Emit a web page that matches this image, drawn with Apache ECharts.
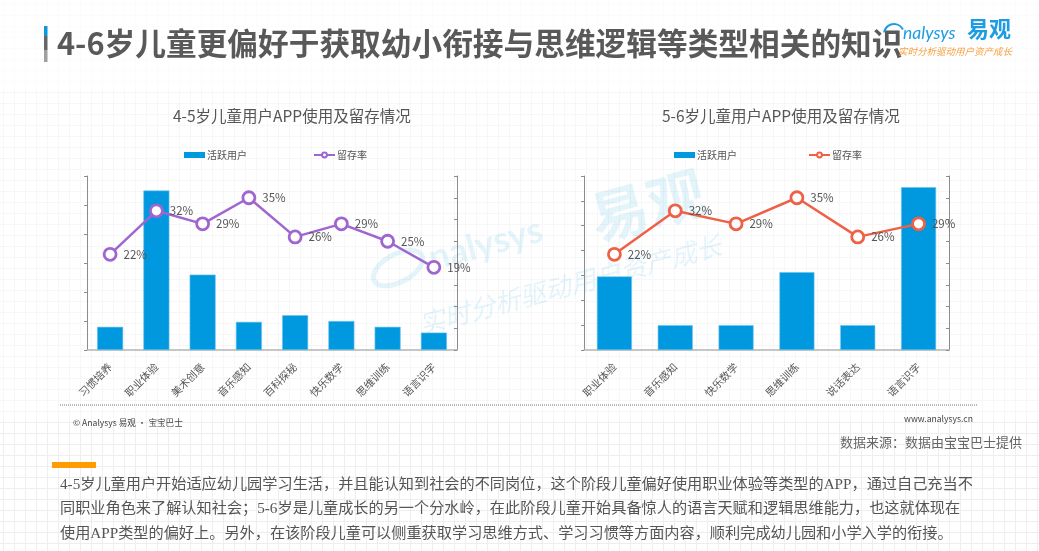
<!DOCTYPE html>
<html lang="en" style="height: 100%">

<head>
  <meta charset="utf-8">
  <style>
    body {
      height: 100%;
      margin: 0;
      background-color: #fff;
      background-image:
        linear-gradient(to bottom, rgba(255,255,255,.85) 0, rgba(255,255,255,.85) 90px, rgba(255,255,255,.5) 90px, rgba(255,255,255,.5) 420px, transparent 420px),
        linear-gradient(to right, #eeeeee 1.5px, transparent 1.5px),
        linear-gradient(to bottom, #eeeeee 1.5px, transparent 1.5px);
      background-size: 100% 100%, 11px 11px, 11px 11px;
      background-position: 0 0, 3px 0, 0 4px;
    }
  </style>
</head>

<body>
  <div id="container" style="width: 1039px; height: 551px"></div>
  <script src="https://fastly.jsdelivr.net/npm/echarts@6/dist/echarts.min.js"></script>
  <script>
    const catsA = ['习惯培养', '职业体验', '美术创意', '音乐感知', '百科探秘', '快乐数学', '思维训练', '语言识字'];
    const usersA = [0.8, 5.5, 2.6, 0.97, 1.2, 1.0, 0.8, 0.6];
    const retainA = [22, 32, 29, 35, 26, 29, 25, 19];

    const catsB = ['职业体验', '音乐感知', '快乐数学', '思维训练', '说话表达', '语言识字'];
    const usersB = [2.96, 1, 1, 3.13, 1, 6.55];
    const retainB = [22, 32, 29, 35, 26, 29];

    const bodyLines = [
      '4-5岁儿童用户开始适应幼儿园学习生活，并且能认知到社会的不同岗位，这个阶段儿童偏好使用职业体验等类型的APP，通过自己充当不',
      '同职业角色来了解认知社会；5-6岁是儿童成长的另一个分水岭，在此阶段儿童开始具备惊人的语言天赋和逻辑思维能力，也这就体现在',
      '使用APP类型的偏好上。另外，在该阶段儿童可以侧重获取学习思维方式、学习习惯等方面内容，顺利完成幼儿园和小学入学的衔接。'
    ];

    const FONT = '"Noto Sans CJK SC", sans-serif';
    const AXIS = '#8c8c8c';
    const MARK = 'rgba(0,152,223,0.11)';

    function valueAxis(gridIndex, max, interval, inside) {
      return {
        type: 'value', gridIndex, min: 0, max, interval,
        axisLine: { show: true, lineStyle: { color: AXIS, width: 1 } },
        axisTick: { show: true, inside, length: 3, lineStyle: { color: AXIS } },
        axisLabel: { show: false },
        splitLine: { show: false }
      };
    }

    function catAxis(gridIndex, data) {
      return {
        type: 'category', gridIndex, data,
        axisLine: { lineStyle: { color: '#b4b4b4', width: 1.5 } },
        axisTick: { show: false },
        axisLabel: { rotate: 45, color: '#555', fontSize: 10.5, interval: 0, margin: 15 }
      };
    }

    function seriesPair(name, idx, users, retain, color, barWidth) {
      return [
        {
          name: '活跃用户', type: 'bar', xAxisIndex: idx, yAxisIndex: idx * 2, data: users, barWidth,
          itemStyle: { color: '#0098df', borderColor: '#6cc3ec', borderWidth: 0.6 },
          silent: true
        },
        {
          name, type: 'line', xAxisIndex: idx, yAxisIndex: idx * 2 + 1, data: retain,
          symbol: 'circle', symbolSize: 12,
          lineStyle: { color, width: 2.5 },
          itemStyle: { color: '#fff', borderColor: color, borderWidth: 2.8 },
          label: {
            show: true, position: 'right', distance: 6, formatter: '{c}%',
            color: '#555', fontSize: 11.5
          }
        }
      ];
    }

    function text(x, y, str, style, extra) {
      return Object.assign({ type: 'text', x, y, silent: true, style: Object.assign({ text: str, fontFamily: FONT, fill: '#555' }, style) }, extra || {});
    }

    function legend(left, gap, name) {
      return {
        left, top: 150, padding: 0, itemWidth: 21, itemHeight: 6, itemGap: gap,
        textStyle: { color: '#555', fontSize: 10, padding: [0, 0, 0, -3] },
        data: [{ name: '活跃用户', icon: 'rect', itemStyle: { borderWidth: 0 } }, name],
        formatter: n => n.replace(/[AB]$/, '')
      };
    }

    const graphic = [
      // page chrome
      { type: 'rect', shape: { x: 44, y: 26, width: 3.5, height: 10 }, style: { fill: '#1296db' } },
      { type: 'rect', shape: { x: 44, y: 36, width: 3.5, height: 14 }, style: { fill: '#666' } },
      { type: 'rect', shape: { x: 44, y: 50, width: 3.5, height: 12 }, style: { fill: '#a0a0a0' } },
      text(57, 28, '4-6岁儿童更偏好于获取幼小衔接与思维逻辑等类型相关的知识', { fontSize: 30.7, fontWeight: 'bold', fill: '#595959' }),
      // logo
      { type: 'arc', shape: { cx: 894, cy: 34, r: 10, startAngle: Math.PI * 1.05, endAngle: Math.PI * 1.85 }, style: { stroke: '#1b9ce3', lineWidth: 2, fill: null } },
      text(903, 24, 'nalysys', { fontSize: 17.5, fontFamily: 'Lato', fontStyle: 'italic', fill: '#1b9ce3' }),
      text(967, 18, '易观', { fontSize: 22, fontWeight: 'bold', fill: '#1b9ce3' }),
      text(898, 47, '实时分析驱动用户资产成长', { fontSize: 9.5, fontStyle: 'italic', fill: '#f5a040' }),
      // watermark
      text(584, 192, '易观', { fontSize: 58, fontWeight: 'bold', fill: MARK }, { rotation: 0.26 }),
      text(416, 312, '实时分析驱动用户资产成长', { fontSize: 26, fontStyle: 'italic', fill: MARK }, { rotation: 0.26 }),
      text(425, 242, 'nalysys', { fontSize: 36, fontWeight: 'bold', fontFamily: 'Lato', fill: MARK }, { rotation: 0.26 }),
      { type: 'ellipse', x: 398, y: 268, rotation: 0.5, shape: { cx: 0, cy: 0, rx: 27, ry: 14 }, style: { stroke: MARK, lineWidth: 5, fill: null } },
      // footer of chart panel
      { type: 'line', shape: { x1: 60, y1: 405, x2: 977, y2: 405 }, style: { stroke: '#777', lineWidth: 1, lineDash: [1, 1] } },
      text(73, 418, '© Analysys 易观 · 宝宝巴士', { fontSize: 8.6, fill: '#444' }),
      text(904, 414, 'www.analysys.cn', { fontSize: 8.6, fill: '#444' }),
      text(840, 436, '数据来源：数据由宝宝巴士提供', { fontSize: 13, fill: '#666' }),
      { type: 'rect', shape: { x: 52, y: 462, width: 44, height: 6 }, style: { fill: '#ff9c00' } }
    ];
    bodyLines.forEach(function (line, i) {
      graphic.push(text(60, 477 + i * 24.5, line, { fontSize: 15.18, fontFamily: '"Liberation Serif", "Noto Sans CJK SC"', fill: '#555' }));
    });

    const option = {
      animation: false,
      textStyle: { fontFamily: FONT },
      title: [
        { text: '4-5岁儿童用户APP使用及留存情况', left: 173, top: 108, padding: 0, textStyle: { color: '#555', fontSize: 15.5, fontWeight: 'normal' } },
        { text: '5-6岁儿童用户APP使用及留存情况', left: 662, top: 108, padding: 0, textStyle: { color: '#555', fontSize: 15.5, fontWeight: 'normal' } }
      ],
      legend: [legend(184, 66, '留存率A'), legend(674, 71, '留存率B')],
      grid: [
        { left: 87, top: 176, width: 370, height: 174 },
        { left: 584, top: 176, width: 365, height: 174 }
      ],
      xAxis: [catAxis(0, catsA), catAxis(1, catsB)],
      yAxis: [
        valueAxis(0, 6, 1, false),
        valueAxis(0, 40, 5, true),
        valueAxis(1, 7, 1, false),
        valueAxis(1, 40, 5, true)
      ],
      series: [
        ...seriesPair('留存率A', 0, usersA, retainA, '#a066d0', 26),
        ...seriesPair('留存率B', 1, usersB, retainB, '#ef6146', 35)
      ],
      graphic
    };

    const dom = document.getElementById('container');
    const myChart = echarts.init(dom, null, { renderer: 'canvas' });
    myChart.setOption(option);
  </script>
</body>

</html>
